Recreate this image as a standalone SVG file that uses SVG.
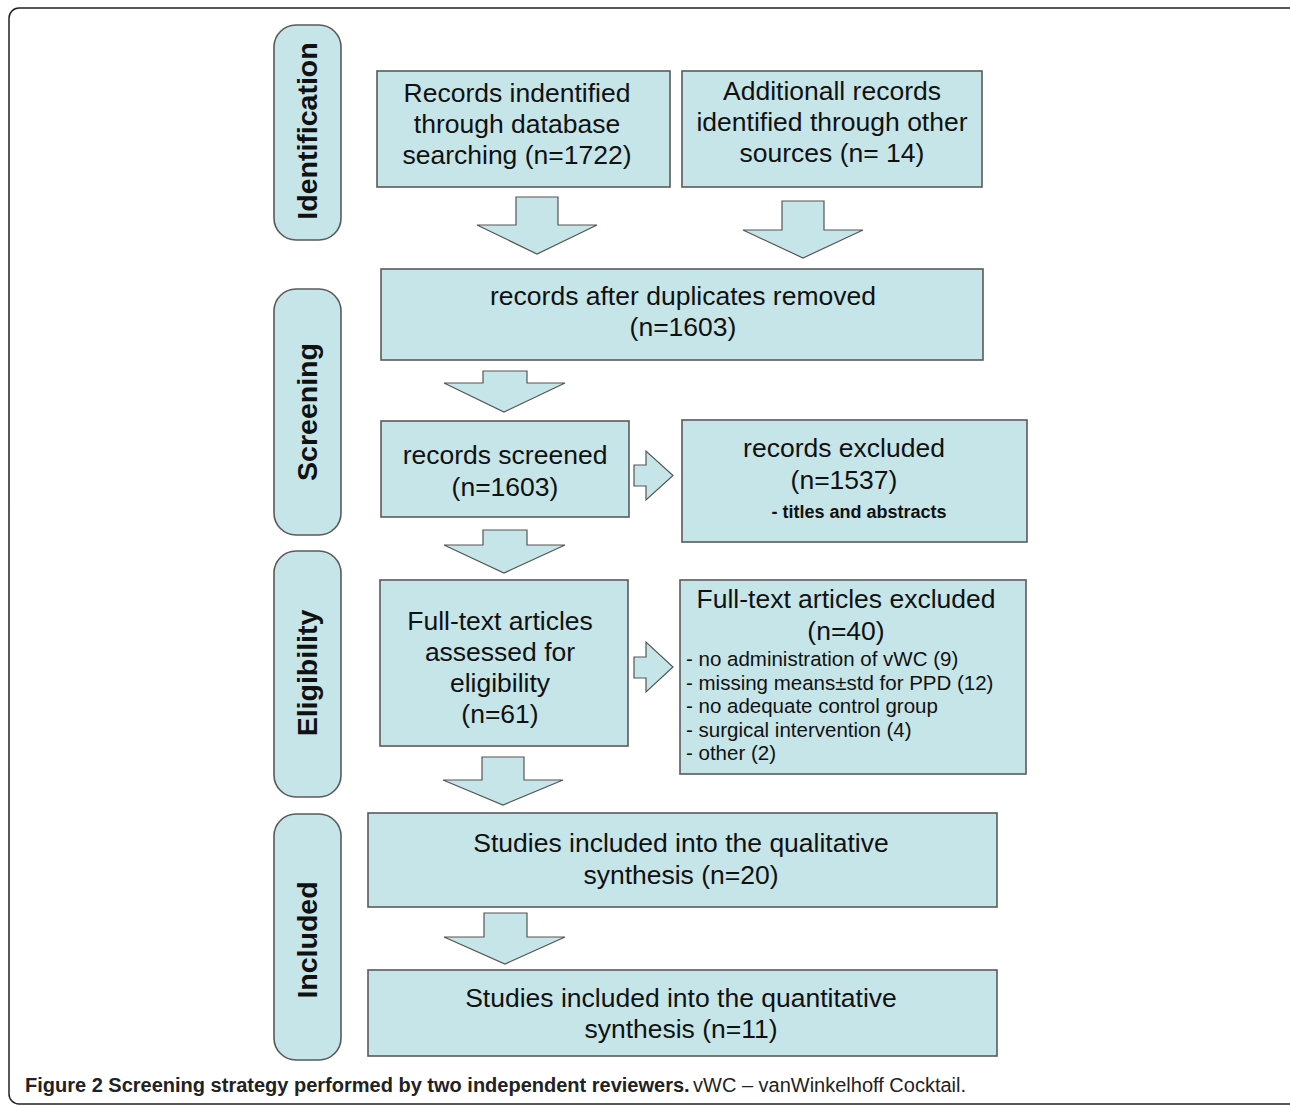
<svg xmlns="http://www.w3.org/2000/svg" width="1290" height="1106" viewBox="0 0 1290 1106">
<style>
.frame{fill:#fff;stroke:#222;stroke-width:1.5}
.box{fill:#c6e5e9;stroke:#5a5a5a;stroke-width:1.6}
.side{fill:#c6e5e9;stroke:#5a5a5a;stroke-width:1.6}
.arr{fill:#c6e5e9;stroke:#555;stroke-width:1.2;stroke-linejoin:miter}
.t{font-family:"Liberation Sans",Arial,sans-serif;font-size:26.5px;fill:#111;text-anchor:middle}
.sl{font-family:"Liberation Sans",Arial,sans-serif;font-size:28.5px;font-weight:bold;fill:#111;text-anchor:middle}
.li{font-family:"Liberation Sans",Arial,sans-serif;font-size:20.5px;fill:#111}
.b{font-family:"Liberation Sans",Arial,sans-serif;font-size:18px;font-weight:bold;fill:#111}
.cap{font-family:"Liberation Sans",Arial,sans-serif;font-size:20px;fill:#222}
</style>
<rect class="frame" x="9" y="8" width="1300" height="1096" rx="10"/>

<g id="side-identification"><rect class="side" x="274" y="25" width="67" height="215" rx="22"/><text class="sl" transform="translate(317,131) rotate(-90)">Identification</text></g>
<g id="side-screening"><rect class="side" x="274" y="289" width="67" height="246" rx="22"/><text class="sl" transform="translate(317,412) rotate(-90)">Screening</text></g>
<g id="side-eligibility"><rect class="side" x="274" y="551" width="67" height="246" rx="22"/><text class="sl" transform="translate(317,673) rotate(-90)">Eligibility</text></g>
<g id="side-included"><rect class="side" x="274" y="814" width="67" height="246" rx="22"/><text class="sl" transform="translate(317,940) rotate(-90)">Included</text></g>

<g id="connectors">
<path class="arr" d="M516 197H558V225H597L537 254L477 225H516Z"/>
<path class="arr" d="M782 201H824V230H863L803 258L743 230H782Z"/>
<path class="arr" d="M483 371H527V383H565L504 412L444 383H483Z"/>
<path class="arr" d="M483 530H527V545H565L504 573L444 545H483Z"/>
<path class="arr" d="M482 757H524V780H563L503 805L443 780H482Z"/>
<path class="arr" d="M484 913H527V937H565L505 964L444 937H484Z"/>
<path class="arr" d="M634 465H646V451L673 475.5L646 500V486H634Z"/>
<path class="arr" d="M634 657H646V642L673 667L646 692V678H634Z"/>
</g>

<g id="box-database"><rect class="box" x="377" y="71" width="293" height="116"/>
<text class="t" x="517" y="102">Records indentified</text><text class="t" x="517" y="133">through database</text><text class="t" x="517" y="164">searching (n=1722)</text></g>

<g id="box-other"><rect class="box" x="682" y="71" width="300" height="116"/>
<text class="t" x="832" y="100">Additionall records</text><text class="t" x="832" y="131">identified through other</text><text class="t" x="832" y="162">sources (n= 14)</text></g>

<g id="box-duplicates"><rect class="box" x="381" y="269" width="602" height="91"/>
<text class="t" x="683" y="305">records after duplicates removed</text><text class="t" x="683" y="336">(n=1603)</text></g>

<g id="box-screened"><rect class="box" x="381" y="421" width="248" height="96"/>
<text class="t" x="505" y="464">records screened</text><text class="t" x="505" y="496">(n=1603)</text></g>

<g id="box-excluded"><rect class="box" x="682" y="420" width="345" height="122"/>
<text class="t" x="844" y="457">records excluded</text><text class="t" x="844" y="489">(n=1537)</text><text class="b" x="859" y="518" text-anchor="middle">- titles and abstracts</text></g>

<g id="box-fulltext"><rect class="box" x="380" y="580" width="248" height="166"/>
<text class="t" x="500" y="630">Full-text articles</text><text class="t" x="500" y="661">assessed for</text><text class="t" x="500" y="692">eligibility</text><text class="t" x="500" y="723">(n=61)</text></g>

<g id="box-fulltext-excluded"><rect class="box" x="680" y="580" width="346" height="194"/>
<text class="t" x="846" y="608">Full-text articles excluded</text><text class="t" x="846" y="640">(n=40)</text>
<text class="li" x="686" y="666">- no administration of vWC (9)</text>
<text class="li" x="686" y="690">- missing means±std for PPD (12)</text>
<text class="li" x="686" y="713">- no adequate control group</text>
<text class="li" x="686" y="737">- surgical intervention (4)</text>
<text class="li" x="686" y="760">- other (2)</text></g>

<g id="box-qualitative"><rect class="box" x="368" y="813" width="629" height="94"/>
<text class="t" x="681" y="852">Studies included into the qualitative</text><text class="t" x="681" y="884">synthesis (n=20)</text></g>

<g id="box-quantitative"><rect class="box" x="368" y="970" width="629" height="86"/>
<text class="t" x="681" y="1007">Studies included into the quantitative</text><text class="t" x="681" y="1038">synthesis (n=11)</text></g>

<g id="caption">
<text class="cap" x="25" y="1092" font-weight="bold" fill="#111">Figure 2 Screening strategy performed by two independent reviewers.</text>
<text class="cap" x="693" y="1092" font-size="18.3" fill="#333">vWC – vanWinkelhoff Cocktail.</text>
</g>
</svg>
